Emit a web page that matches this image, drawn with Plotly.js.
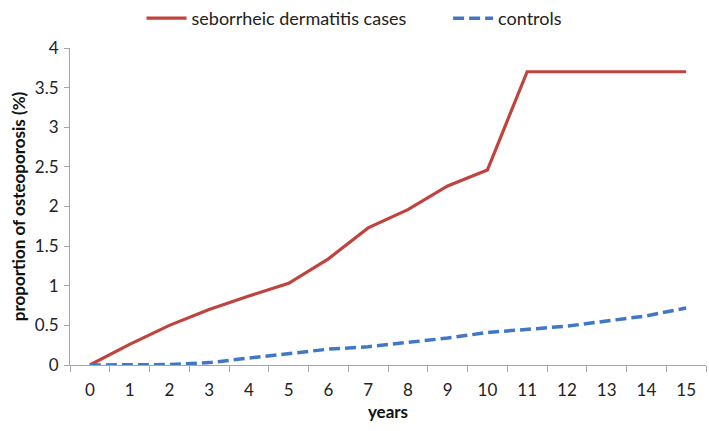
<!DOCTYPE html>
<html>
<head>
<meta charset="utf-8">
<script src="https://cdn.plot.ly/plotly-3.0.1.min.js"></script>
<style>html,body{margin:0;padding:0;background:#fff;}#chart{width:709px;height:431px;}</style>
</head>
<body>
<div id="chart"></div>
<script>
const years = ["0","1","2","3","4","5","6","7","8","9","10","11","12","13","14","15"];
const casesLabel = "seborrheic dermatitis cases";
const controlsLabel = "controls";
const cases = [0, 0.26, 0.50, 0.70, 0.87, 1.03, 1.34, 1.73, 1.96, 2.26, 2.46, 3.70, 3.70, 3.70, 3.70, 3.70];
const controls = [0, 0, 0.005, 0.03, 0.09, 0.15, 0.20, 0.23, 0.28, 0.34, 0.41, 0.45, 0.49, 0.555, 0.62, 0.72];
const yTicks = [0, 0.5, 1, 1.5, 2, 2.5, 3, 3.5, 4];
const yTickText = ["0", "0.5", "1", "1.5", "2", "2.5", "3", "3.5", "4"];

const font = "Lato, 'Open Sans', sans-serif";
const pad = "\u00a0\u00a0\u00a0\u00a0\u00a0\u00a0\u00a0\u00a0";
const traces = [
  {x: years, y: cases, name: casesLabel + pad, type: "scatter", mode: "lines", cliponaxis: false,
   line: {color: "#c0433e", width: 3.2}},
  {x: years, y: controls, name: controlsLabel, type: "scatter", mode: "lines", cliponaxis: false,
   line: {color: "#4078c6", width: 3.5, dash: "11px,5px"}}
];
const layout = {
  width: 709, height: 431,
  margin: {l: 70, r: 3, t: 48, b: 66},
  paper_bgcolor: "#fff", plot_bgcolor: "#fff",
  font: {family: font, size: 17, color: "#222"},
  showlegend: true,
  legend: {orientation: "h", x: 0.5, xref: "container", xanchor: "center", y: 1.0, yref: "container", yanchor: "top",
           font: {size: 18, color: "#222"}, itemwidth: 40, tracegroupgap: 0},
  xaxis: {type: "category", range: [-0.5, 15.5], tickson: "boundaries", ticks: "outside", ticklen: 6, tickcolor: "#a6a6a6",
          showline: true, linecolor: "#a6a6a6", linewidth: 1, showgrid: false, zeroline: false,
          tickfont: {size: 17, color: "#222"}, ticklabelstandoff: 10,
          title: {text: "<b>years</b>", font: {size: 17, color: "#111"}, standoff: 6}},
  yaxis: {range: [0, 4], tickvals: yTicks, ticktext: yTickText, ticks: "outside", ticklen: 5, tickcolor: "#a6a6a6",
          showline: true, linecolor: "#a6a6a6", linewidth: 1, showgrid: false, zeroline: false,
          tickfont: {size: 17, color: "#222"}, ticklabelstandoff: 2,
          title: {text: "<b>proportion of osteoporosis (%)</b>", font: {size: 17, color: "#111"}, standoff: 4}}
};
Plotly.newPlot("chart", traces, layout, {displayModeBar: false, staticPlot: true});
</script>
</body>
</html>
